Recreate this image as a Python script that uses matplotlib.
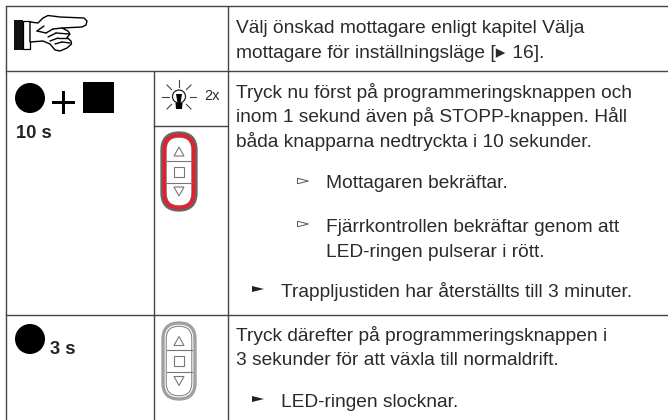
import matplotlib
matplotlib.use("Agg")
import matplotlib.pyplot as plt
from matplotlib.patches import Circle, Rectangle, FancyBboxPatch, Polygon
import numpy as np

plt.rcParams['font.family'] = ['Liberation Sans', 'DejaVu Sans']

H_LINES = [(6, 668, 6), (6, 668, 71), (6, 668, 315), (154, 227, 125.5)]
V_LINES = [(6, 6, 420), (154, 71, 420), (227.5, 6, 420)]

BODY_LINES = [
    (236, 33, "Välj önskad mottagare enligt kapitel Välja"),
    (236, 58, "mottagare för inställningsläge [\u25b8\u200a 16]."),
    (236, 98, "Tryck nu först på programmeringsknappen och"),
    (236, 122, "inom 1 sekund även på STOPP-knappen. Håll"),
    (236, 147, "båda knapparna nedtryckta i 10 sekunder."),
    (326, 188, "Mottagaren bekräftar."),
    (326, 232.5, "Fjärrkontrollen bekräftar genom att"),
    (326, 257, "LED-ringen pulserar i rött."),
    (281, 297, "Trappljustiden har återställts till 3 minuter."),
    (236, 341, "Tryck därefter på programmeringsknappen i"),
    (236, 365, "3 sekunder för att växla till normaldrift."),
    (281, 407, "LED-ringen slocknar."),
]
HOLLOW_BULLETS = [(303, 181), (303, 224)]
SOLID_BULLETS = [(258, 289), (258, 399)]
BOLD_LABELS = [(16.5, 138, "10 s"), (50.5, 354, "3 s")]
DOTS = [(30, 98), (30, 339)]

fig = plt.figure(figsize=(6.68, 4.2), dpi=100)
ax = fig.add_axes([0, 0, 1, 1])
ax.set_xlim(0, 668)
ax.set_ylim(420, 0)
ax.axis('off')

LINE = '#444444'
for x0, x1, y in H_LINES:
    ax.plot([x0, x1], [y, y], color=LINE, lw=1.0, solid_capstyle='projecting')
for x, y0, y1 in V_LINES:
    ax.plot([x, x], [y0, y1], color=LINE, lw=1.0, solid_capstyle='butt')

TXT = '#2a2a2a'
for x, y, s in BODY_LINES:
    ax.text(x, y, s, fontsize=13.75, color=TXT, va='baseline', ha='left')
for x, y, s in BOLD_LABELS:
    ax.text(x, y, s, fontsize=13.2, color='#222222', va='baseline', ha='left', fontweight='bold')

def tri(cx, cy, w, h, fc, ec, lw=0.7):
    ax.add_patch(Polygon([(cx - w / 2, cy - h / 2), (cx + w / 2, cy), (cx - w / 2, cy + h / 2)],
                         closed=True, fc=fc, ec=ec, lw=lw))
for x, y in HOLLOW_BULLETS:
    tri(x, y, 11, 5.5, 'white', '#555555')
for x, y in SOLID_BULLETS:
    tri(x, y, 12, 6, '#222222', 'none')

# black keys
for cx, cy in DOTS:
    ax.add_patch(Circle((cx, cy), 15, fc='black', ec='none'))
ax.add_patch(Rectangle((83, 82), 31, 31, fc='black', ec='none'))
ax.add_patch(Rectangle((52, 100.5), 23, 3.8, fc='black', ec='none'))
ax.add_patch(Rectangle((61.6, 91), 3.8, 22.5, fc='black', ec='none'))

# remote controls
def remote(top, height, ring, ring_lw):
    x0, x1, y0, y1 = 163, 195, top, top + height
    r = (x1 - x0) / 2
    ax.add_patch(FancyBboxPatch((x0 + r, y0 + r), 0, y1 - y0 - 2 * r,
                                boxstyle=f"round,pad={r},rounding_size={r}",
                                fc='white', ec=ring, lw=ring_lw, zorder=3))
    edge = '#777777'
    ri = r - 3.2
    ax.add_patch(FancyBboxPatch((x0 + r, y0 + r), 0, y1 - y0 - 2 * r,
                                boxstyle=f"round,pad={ri},rounding_size={ri}",
                                fc='white', ec=edge, lw=0.7, zorder=4))
    cy = (y0 + y1) / 2
    for dy in (-11, 11):
        ax.plot([x0 + 3.5, x1 - 3.5], [cy + dy, cy + dy], color=edge, lw=0.8, zorder=5)
    ax.add_patch(Rectangle((174, cy - 5), 10, 10, fc='white', ec=edge, lw=0.8, zorder=5))
    ax.add_patch(Polygon([(174, cy - 15.5), (184, cy - 15.5), (179, cy - 24.5)], closed=True, fc='white', ec=edge, lw=0.8, zorder=5))
    ax.add_patch(Polygon([(174, cy + 15.5), (184, cy + 15.5), (179, cy + 24.5)], closed=True, fc='white', ec=edge, lw=0.8, zorder=5))

# red remote: gray rim behind the red ring
remote(134, 75, '#666666', 3.8)
ax.add_patch(FancyBboxPatch((179, 150), 0, 43, boxstyle="round,pad=14.6,rounding_size=14.6",
                            fc='none', ec='#e3202c', lw=2.6, zorder=4.5))
remote(323, 76, '#a0a0a0', 2.4)

# bulb icon
cx, cy = 179, 97
for a in range(0, 360, 45):
    if a == 270:
        continue
    r0, r1 = 10.5, 17
    c, s = np.cos(np.radians(a)), np.sin(np.radians(a))
    ax.plot([cx + r0 * c, cx + r1 * c], [cy - r0 * s, cy - r1 * s], color='#444444', lw=0.8)
ax.add_patch(Circle((cx, cy - 0.5), 6.5, fc='white', ec='#222222', lw=0.9))
ax.add_patch(Polygon([(cx - 3, cy - 3), (cx + 3, cy - 3), (cx + 1.5, cy + 6), (cx - 1.5, cy + 6)], closed=True, fc='black', ec='none'))
ax.add_patch(Polygon([(cx - 3.5, cy + 6), (cx + 3.5, cy + 6), (cx + 3, cy + 12), (cx - 3, cy + 12)], closed=True, fc='black', ec='none'))
ax.text(204, 100.5, "2x", fontsize=10.5, color=TXT, va='baseline', ha='left')

# pointing hand
ax.add_patch(Rectangle((14, 19.5), 9, 30, fc='#111111', ec='none'))
ax.add_patch(Rectangle((23, 20.5), 7, 28, fc='white', ec='black', lw=0.9))
verts = [(30, 22), (38, 23), (43, 18), (48, 15.5), (60, 17), (84, 18), (87, 21), (86, 25), (82, 27),
         (62, 28), (68, 31), (70, 34), (67, 37.5), (71, 41), (71.5, 44), (67, 48), (60, 51), (55, 50),
         (50, 44), (43, 41), (30, 42)]
ax.add_patch(Polygon(verts, closed=True, fc='white', ec='black', lw=1.0, joinstyle='round'))
FOLDS = [((37, 31), (46, 33)), ((46, 33), (53, 29)), ((53, 29), (62, 28)), ((48, 37), (56, 33)),
         ((56, 33), (69, 34)), ((50, 41), (58, 38)), ((58, 38), (67, 38)), ((55, 44), (62, 42)), ((62, 42), (70, 43)),
         ((37, 31), (44, 26))]
for (a, b), (c, d) in FOLDS:
    ax.plot([a, c], [b, d], color='black', lw=1.0, solid_capstyle='round')

fig.savefig("out.png", dpi=100)
